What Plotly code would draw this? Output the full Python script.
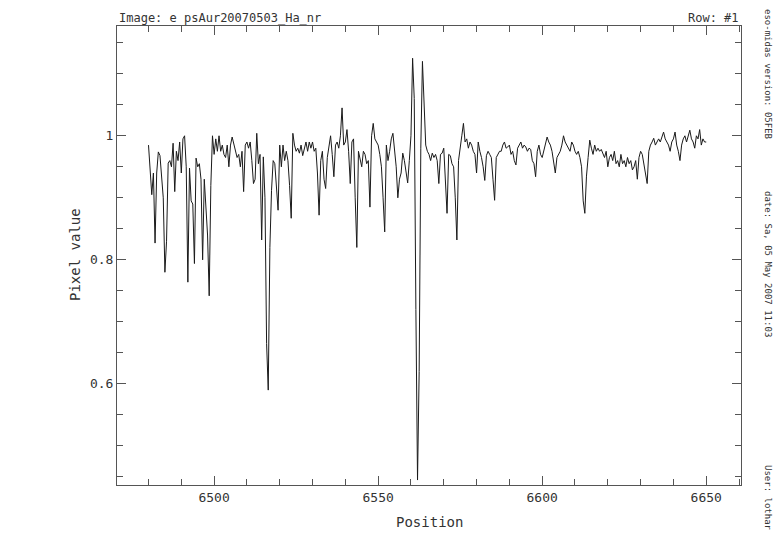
import plotly.graph_objects as go

# =====================================================
# SPECTRUM DATA (0.5 A steps)
# =====================================================

wl_start = 6480.0
wl_step = 0.5

flux = [
    0.985, 0.950, 0.905, 0.940, 0.827, 0.940, 0.974, 0.968, 0.925, 0.900,  # 6480
    0.780, 0.830, 0.956, 0.960, 0.950, 0.988, 0.910, 0.975, 0.960, 0.990,  # 6485
    0.940, 0.995, 1.000, 0.950, 0.764, 0.948, 0.895, 0.890, 0.794, 0.964,  # 6490
    0.950, 0.955, 0.930, 0.800, 0.930, 0.890, 0.840, 0.742, 0.920, 1.000,  # 6495
    0.970, 0.995, 0.975, 1.000, 0.975, 0.985, 0.970, 0.965, 0.985, 0.950,  # 6500
    0.985, 0.998, 0.985, 0.975, 0.965, 0.970, 0.950, 0.975, 0.910, 0.985,  # 6505
    0.990, 0.980, 0.990, 0.960, 0.923, 0.930, 1.004, 0.955, 0.970, 0.832,  # 6510
    0.966, 0.900, 0.665, 0.590, 0.820, 0.912, 0.960, 0.955, 0.920, 0.880,  # 6515
    0.985, 0.950, 0.985, 0.960, 0.975, 0.960, 0.920, 0.867, 1.004, 0.985,  # 6520
    0.975, 0.980, 0.972, 0.985, 0.968, 0.980, 0.990, 0.975, 0.990, 0.980,  # 6525
    0.990, 0.975, 0.980, 0.940, 0.872, 0.960, 0.975, 0.930, 0.915, 0.965,  # 6530
    0.985, 1.000, 0.970, 0.934, 0.985, 0.990, 0.980, 1.000, 1.045, 0.985,  # 6535
    0.990, 1.010, 0.975, 0.923, 0.990, 0.995, 0.900, 0.820, 0.975, 0.960,  # 6540
    0.950, 0.975, 0.970, 0.955, 0.960, 0.885, 1.000, 1.020, 0.995, 0.990,  # 6545
    0.985, 0.970, 0.950, 0.900, 0.845, 0.985, 0.960, 0.975, 0.995, 1.004,  # 6550
    0.975, 0.950, 0.900, 0.930, 0.940, 0.972, 0.960, 0.945, 0.924, 0.960,  # 6555
    1.000, 1.125, 1.060, 0.720, 0.445, 0.620, 0.980, 1.120, 1.050, 0.985,  # 6560
    0.975, 0.970, 0.960, 0.972, 0.965, 0.970, 0.960, 0.923, 0.970, 0.972,  # 6565
    0.980, 0.930, 0.875, 0.970, 0.968, 0.955, 0.950, 0.900, 0.832, 0.960,  # 6570
    0.985, 1.000, 1.020, 0.990, 0.995, 0.980, 0.990, 0.985, 0.975, 0.970,  # 6575
    0.940, 0.990, 0.975, 0.965, 0.950, 0.928, 0.968, 0.975, 0.970, 0.965,  # 6580
    0.930, 0.896, 0.965, 0.970, 0.975, 0.975, 0.985, 0.990, 0.980, 0.982,  # 6585
    0.985, 0.970, 0.975, 0.960, 0.953, 0.980, 0.985, 0.990, 0.980, 0.985,  # 6590
    0.982, 0.975, 0.980, 0.978, 0.960, 0.955, 0.934, 0.975, 0.985, 0.970,  # 6595
    0.965, 0.975, 0.985, 0.998, 0.990, 0.985, 0.975, 0.960, 0.940, 0.965,  # 6600
    0.970, 0.975, 0.985, 1.000, 0.990, 0.985, 0.980, 0.975, 0.990, 0.985,  # 6605
    0.975, 0.970, 0.975, 0.965, 0.950, 0.895, 0.875, 0.935, 0.965, 0.993,  # 6610
    0.980, 0.970, 0.985, 0.975, 0.980, 0.975, 0.978, 0.970, 0.965, 0.975,  # 6615
    0.950, 0.965, 0.970, 0.960, 0.975, 0.955, 0.960, 0.950, 0.970, 0.955,  # 6620
    0.960, 0.950, 0.965, 0.955, 0.960, 0.945, 0.950, 0.960, 0.930, 0.965,  # 6625
    0.975, 0.970, 0.955, 0.935, 0.923, 0.975, 0.985, 0.990, 0.996, 0.985,  # 6630
    0.990, 0.995, 0.990, 1.000, 1.006, 0.995, 0.990, 0.985, 0.975, 0.990,  # 6635
    0.995, 1.006, 0.985, 0.975, 0.960, 0.985, 0.995, 1.000, 0.990, 1.000,  # 6640
    1.009, 0.995, 0.990, 0.980, 1.000, 0.995, 1.010, 0.985, 0.995, 0.990,  # 6645
    0.990,                                                                 # 6650
]

position = [wl_start + i * wl_step for i in range(len(flux))]

image_name = "Image: e psAur20070503_Ha_nr"
row_label = "Row: #1"
side_labels = ["eso-midas version: 05FEB", "date: Sa, 05 May 2007 11:03", "User: lothar"]

FONT = "DejaVu Sans Mono"
INK = "#333333"
FRAME = "#555555"

# =====================================================
# FIGURE
# =====================================================

fig = go.Figure()
fig.add_trace(go.Scatter(
    x=position,
    y=flux,
    mode="lines",
    line=dict(color="#1a1a1a", width=1),
    showlegend=False,
    hoverinfo="skip",
))

axis_common = dict(
    showgrid=False,
    zeroline=False,
    showline=True,
    linecolor=FRAME,
    linewidth=1,
    mirror="allticks",
    ticks="inside",
    ticklen=9,
    tickwidth=1,
    tickcolor=FRAME,
    tickfont=dict(family=FONT, size=13, color=INK),
)

fig.update_xaxes(
    range=[6470.4, 6660.6],
    tick0=6500,
    dtick=50,
    minor=dict(ticks="inside", dtick=10, ticklen=6, tickcolor=FRAME, showgrid=False),
    **axis_common,
)
fig.update_yaxes(
    range=[0.437, 1.177],
    tick0=0.6,
    dtick=0.2,
    minor=dict(ticks="inside", dtick=0.05, ticklen=6, tickcolor=FRAME, showgrid=False),
    **axis_common,
)

# the page body adds an 8px margin, so the figure is drawn 8px smaller
# and the margins are shifted to keep the frame at 117..741 x 26..485
W, H = 774, 534
L, R, T, B = 109, 41, 18, 57


def px(x):
    # page pixel -> paper x
    return (x - 117) / 624


def py(y):
    # page pixel -> paper y
    return (485 - y) / 459


txt = dict(family=FONT, size=12, color=INK)
side = dict(family=FONT, size=9, color=INK)
notes = [
    dict(x=px(117), y=py(18), text=image_name, xanchor="left", yanchor="middle", font=txt),
    dict(x=px(741), y=py(18), text=row_label, xanchor="right", yanchor="middle", font=txt),
    dict(x=px(429), y=py(522), text="Position", xanchor="center", yanchor="middle",
         font=dict(family=FONT, size=14, color=INK)),
    dict(x=px(75), y=py(255), text="Pixel value", textangle=-90, xanchor="center", yanchor="middle",
         font=dict(family=FONT, size=14, color=INK)),
    # vertical footer texts, placed by their centres
    dict(x=px(768), y=py(74), text=side_labels[0], textangle=90, xanchor="center", yanchor="middle", font=side),
    dict(x=px(768), y=py(264), text=side_labels[1], textangle=90, xanchor="center", yanchor="middle", font=side),
    dict(x=px(768), y=py(498), text=side_labels[2], textangle=90, xanchor="center", yanchor="middle", font=side),
]
for n in notes:
    fig.add_annotation(xref="paper", yref="paper", showarrow=False, **n)

fig.update_layout(
    width=W,
    height=H,
    margin=dict(l=L, r=R, t=T, b=B),
    paper_bgcolor="white",
    plot_bgcolor="white",
)

fig.write_html("out.html")
